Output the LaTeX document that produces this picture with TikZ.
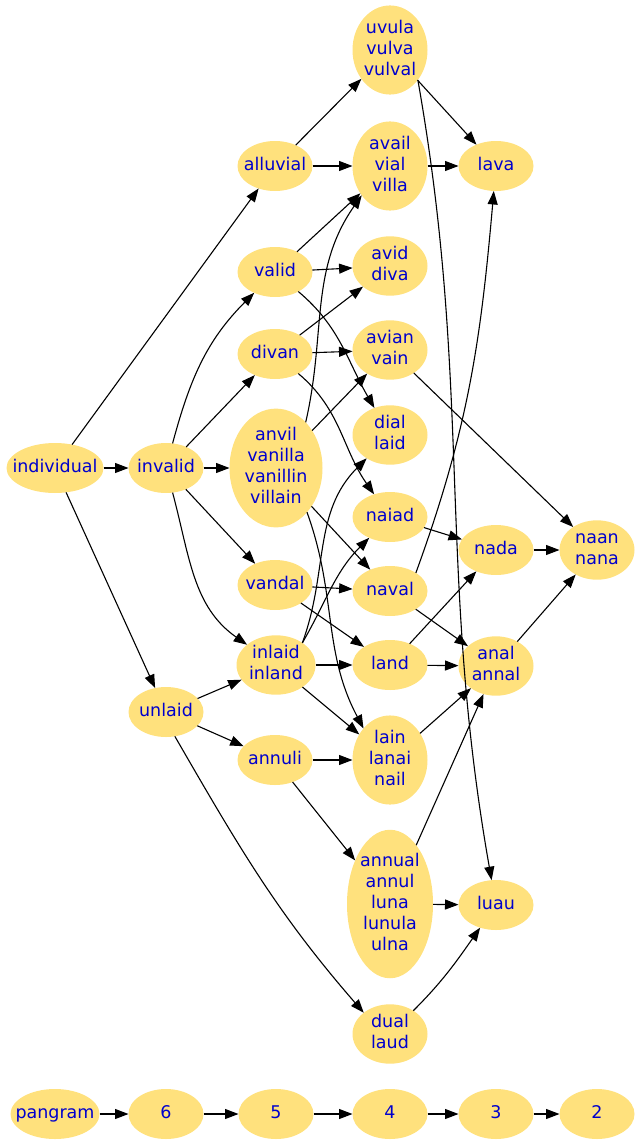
\documentclass[tikz,border=0pt]{standalone}
\usepackage{fontspec}
\setmainfont{DejaVu Sans}
\usepackage{tikz}
\usetikzlibrary{arrows.meta,positioning,shapes.geometric}
\definecolor{wordfill}{RGB}{255,225,125}
\definecolor{wordblue}{RGB}{0,0,205}
\newcommand\wordlines[1]{\hbox to 0pt{\hss\begin{tabular}{@{}c@{}}#1\end{tabular}\hss}}
\begin{document}
\begin{tikzpicture}[x=1pt,y=1pt,
    word/.style={ellipse,fill=wordfill,text=wordblue,inner sep=0pt,outer sep=0pt,
      minimum width=75pt,minimum height=50pt,font=\fontsize{17.5}{21}\selectfont},
    link/.style={-{Triangle[length=13.5pt,width=10pt]},line width=1.1pt}]
  \useasboundingbox (0,0) rectangle (639,-1145);
  \node[word] (uvula) at (390,-50) {\wordlines{uvula\\vulva\\vulval}};
  \node[word] (alluvial) at (275,-166) {\wordlines{alluvial}};
  \node[word] (avail) at (390,-166) {\wordlines{avail\\vial\\villa}};
  \node[word] (lava) at (496,-166) {\wordlines{lava}};
  \node[word] (valid) at (275,-272) {\wordlines{valid}};
  \node[word] (avid) at (390,-266) {\wordlines{avid\\diva}};
  \node[word] (divan) at (275,-354) {\wordlines{divan}};
  \node[word] (avian) at (390,-350) {\wordlines{avian\\vain}};
  \node[word,minimum width=97pt] (individual) at (55,-468) {\wordlines{individual}};
  \node[word] (invalid) at (166,-468) {\wordlines{invalid}};
  \node[word,minimum width=93pt] (anvil) at (276,-468) {\wordlines{anvil\\vanilla\\vanillin\\villain}};
  \node[word] (dial) at (390,-435) {\wordlines{dial\\laid}};
  \node[word] (naiad) at (390,-517) {\wordlines{naiad}};
  \node[word] (nada) at (496,-550) {\wordlines{nada}};
  \node[word] (naan) at (597,-550) {\wordlines{naan\\nana}};
  \node[word] (vandal) at (275,-585) {\wordlines{vandal}};
  \node[word] (naval) at (390,-591) {\wordlines{naval}};
  \node[word,minimum width=79pt] (inlaid) at (276,-665) {\wordlines{inlaid\\inland}};
  \node[word] (land) at (390,-665) {\wordlines{land}};
  \node[word] (anal) at (496,-666) {\wordlines{anal\\annal}};
  \node[word] (unlaid) at (166,-712) {\wordlines{unlaid}};
  \node[word] (annuli) at (275,-760) {\wordlines{annuli}};
  \node[word] (lain) at (390,-760) {\wordlines{lain\\lanai\\nail}};
  \node[word,minimum width=86pt] (annual) at (390,-904) {\wordlines{annual\\annul\\luna\\lunula\\ulna}};
  \node[word] (luau) at (496,-905) {\wordlines{luau}};
  \node[word] (dual) at (390,-1034) {\wordlines{dual\\laud}};
  \node[word,minimum width=89pt] (pangram) at (55,-1114) {\wordlines{pangram}};
  \node[word] (n6) at (166,-1114) {\wordlines{6}};
  \node[word] (n5) at (276,-1114) {\wordlines{5}};
  \node[word] (n4) at (390,-1114) {\wordlines{4}};
  \node[word] (n3) at (496,-1114) {\wordlines{3}};
  \node[word] (n2) at (597,-1114) {\wordlines{2}};
  \path[link]
    (individual) edge (alluvial) edge (invalid) edge (unlaid)
    (invalid) edge[out=75,in=-135] (valid) edge (divan) edge (anvil) edge (vandal)
      edge[out=-75,in=145] (inlaid)
    (alluvial) edge (uvula) edge (avail)
    (valid) edge (avail) edge (avid) edge[out=-40,in=120] (dial)
    (divan) edge (avid) edge (avian) edge[out=-40,in=125] (naiad)
    (anvil.57) edge[out=77,in=-125] (avail.-134)
    (anvil) edge (avian) edge (naval)
    (anvil.-55) edge[out=-70,in=118] (lain.130)
    (uvula) edge (lava)
    (uvula.-47) edge[out=-80,in=100] (luau)
    (avail) edge (lava)
    (avian) edge (naan)
    (naiad) edge (nada)
    (vandal) edge (naval) edge (land)
    (naval.35) edge[out=70,in=-95] (lava)
    (naval) edge (anal)
    (inlaid.40) edge[out=70,in=-135] (dial) edge[out=60,in=-135] (naiad)
    (inlaid) edge (land) edge (lain)
    (land) edge (nada) edge (anal)
    (nada) edge (naan)
    (anal) edge (naan)
    (lain) edge (anal)
    (unlaid) edge (inlaid) edge (annuli)
    (unlaid.-70) edge[out=-60,in=131] (dual.141)
    (annuli) edge (lain) edge (annual)
    (annual) edge (anal) edge (luau)
    (dual) edge[out=45,in=-125] (luau)
    (pangram) edge (n6) (n6) edge (n5) (n5) edge (n4) (n4) edge (n3) (n3) edge (n2);
\end{tikzpicture}
\end{document}
